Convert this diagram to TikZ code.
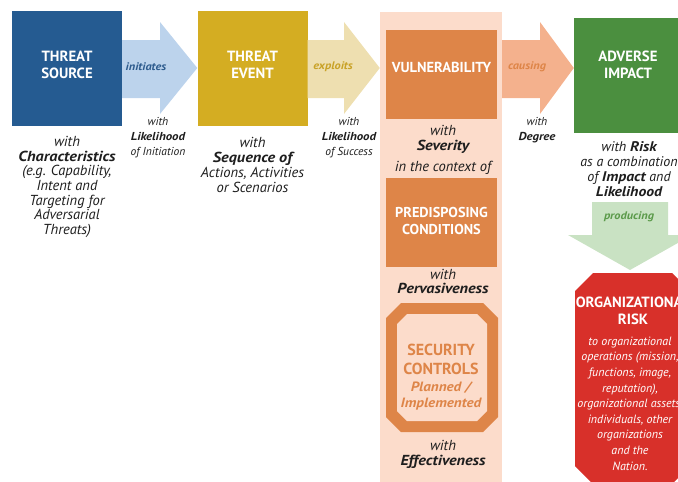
\documentclass[tikz,border=0pt]{standalone}
\usepackage{fontspec}
\setmainfont{PT Sans}[BoldItalicFeatures={FakeStretch=1.12}]
\definecolor{srcblue}{HTML}{255B91}
\definecolor{arrblue}{HTML}{BCD3EC}
\definecolor{txtblue}{HTML}{2E5C8E}
\definecolor{evtgold}{HTML}{D4AD22}
\definecolor{arrgold}{HTML}{EEDFB0}
\definecolor{txtgold}{HTML}{C9A227}
\definecolor{colpeach}{HTML}{FCDCCB}
\definecolor{vulorange}{HTML}{DE8548}
\definecolor{arrsalmon}{HTML}{F4B18D}
\definecolor{impgreen}{HTML}{4B8F3F}
\definecolor{arrgreen}{HTML}{C9E2C3}
\definecolor{txtgreen}{HTML}{5B9A4A}
\definecolor{riskred}{HTML}{D8302A}
\definecolor{ink}{HTML}{1E1E1E}
\begin{document}
\begin{tikzpicture}[x=1pt,y=-1pt,
  box/.style={rectangle,inner sep=0pt,draw=none},
  title/.style={align=center,inner sep=0pt,text=white,font=\fontsize{14.8}{17}\selectfont\bfseries},
  note/.style={align=center,inner sep=0pt,text=ink,font=\fontsize{14.5}{14.7}\selectfont\itshape},
  small/.style={align=center,inner sep=0pt,text=ink,font=\fontsize{11.5}{15}\selectfont\itshape},
  verb/.style={inner sep=0pt,font=\fontsize{11}{13}\selectfont\bfseries\itshape}
]
\useasboundingbox (0,0) rectangle (678,482);
\clip (0,0) rectangle (678,482);

% background column of the vulnerability group
\node[box,fill=colpeach,minimum width=122pt,minimum height=478pt] (col) at (441,251) {};

% main boxes
\node[box,fill=srcblue,minimum width=110pt,minimum height=115pt] (src) at (67,68.5) {};
\node[box,fill=evtgold,minimum width=110pt,minimum height=115pt] (evt) at (252.5,68.5) {};
\node[box,fill=vulorange,minimum width=111pt,minimum height=89pt] (vul) at (441.5,74.5) {};
\node[box,fill=vulorange,minimum width=111pt,minimum height=89pt] (pre) at (441.5,222.5) {};
\node[box,fill=impgreen,minimum width=108pt,minimum height=115pt] (imp) at (628,75.5) {};

% block arrows between the boxes
\fill[arrblue] (src.east|-0,40) -- (160,40) -- (160,22) -- (evt.west|-0,68)
  -- (160,114) -- (160,98) -- (src.east|-0,98) -- cycle;
\fill[arrgold] (evt.east|-0,40) -- (344,40) -- (344,22) -- (col.west|-0,68)
  -- (344,114) -- (344,98) -- (evt.east|-0,98) -- cycle;
\fill[arrsalmon] (col.east|-0,40) -- (540,40) -- (540,22) -- (imp.west|-0,68)
  -- (540,114) -- (540,98) -- (col.east|-0,98) -- cycle;
\fill[arrgreen] (592,202) -- (668,202) -- (668,235) -- (692,235) -- (630,270)
  -- (568,235) -- (592,235) -- cycle;

% security controls octagon
\fill[vulorange] (401,303) -- (483,303) -- (498,318) -- (498,417) -- (483,432)
  -- (401,432) -- (386,417) -- (386,318) -- cycle;
\fill[colpeach] (407,314) -- (477,314) -- (487,324) -- (487,411) -- (477,421)
  -- (407,421) -- (397,411) -- (397,324) -- cycle;

% organizational risk octagon
\fill[riskred] (593,273) -- (672,273) -- (690,291) -- (690,466) -- (672,484)
  -- (593,484) -- (575,466) -- (575,291) -- cycle;

% box titles
\node[title] (srct) at (67,64.5) {THREAT\\SOURCE};
\node[title] (evtt) at (252.5,64.5) {THREAT\\EVENT};
\node[title,font=\fontsize{14.5}{17}\selectfont\bfseries] (vult) at (441.5,67) {VULNERABILITY};
\node[title,font=\fontsize{14.3}{17}\selectfont\bfseries] (pret) at (441.5,220.5) {PREDISPOSING\\CONDITIONS};
\node[title] (impt) at (628,64.5) {ADVERSE\\IMPACT};
\node[title,text=vulorange,font=\fontsize{16}{18.5}\selectfont\bfseries] (sect) at (441,359.5) {SECURITY\\CONTROLS};
\node[align=center,inner sep=0pt,text=vulorange,font=\fontsize{13.5}{16}\selectfont\bfseries\itshape] (secp) at (441,396.5) {Planned /\\Implemented};
\node[title] (riskt) at (633,311) {ORGANIZATIONAL\\RISK};
\node[align=center,inner sep=0pt,text=white,font=\fontsize{12}{15.6}\selectfont\itshape] (riskb) at (630,403.5)
  {to organizational\\operations (mission,\\functions, image,\\reputation),\\organizational assets,\\individuals, other\\organizations\\and the\\Nation.};

% verbs on the arrows
\node[verb,text=txtblue] (v1) at (146,67) {initiates};
\node[verb,text=txtgold] (v2) at (333,67) {exploits};
\node[verb,text=vulorange] (v3) at (527,67) {causing};
\node[verb,text=txtgreen] (v4) at (629,217) {producing};

% attribute notes
\node[note] (n1) at (67,187) {with\\\textbf{Characteristics}\\(e.g. Capability,\\Intent and\\Targeting for\\Adversarial\\Threats)};
\node[small] (n2) at (158,138) {with\\\textbf{Likelihood}\\of Initiation};
\node[note] (n3) at (252.5,165) {with\\\textbf{Sequence of}\\Actions, Activities\\or Scenarios};
\node[small] (n4) at (349,138) {with\\\textbf{Likelihood}\\of Success};
\node[note] (n5) at (443,139.5) {with\\\textbf{Severity}};
\node[note] (n6) at (443,168) {in the context of};
\node[note] (n7) at (443,281.5) {with\\\textbf{Pervasiveness}};
\node[note] (n8) at (443,454.5) {with\\\textbf{Effectiveness}};
\node[small] (n9) at (537,130.5) {with\\\textbf{Degree}};
\node[note,font=\fontsize{14}{15}\selectfont\itshape] (n10) at (629,169.5) {with \textbf{Risk}\\as a combination\\of \textbf{Impact} and\\\textbf{Likelihood}};
\end{tikzpicture}
\end{document}
